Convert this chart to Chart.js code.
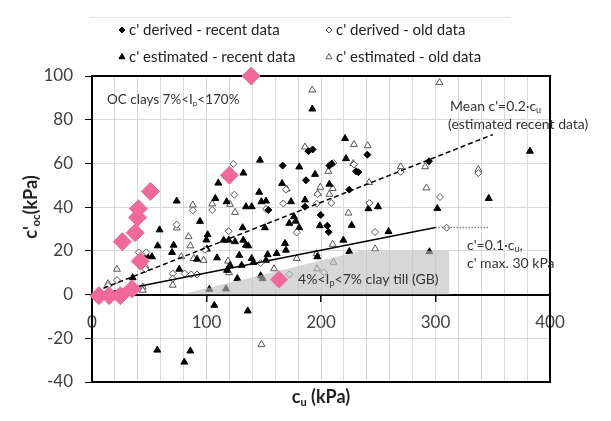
<!DOCTYPE html>
<html>
<head>
<meta charset="utf-8">
<script src="https://cdn.jsdelivr.net/npm/chart.js@4.4.0/dist/chart.umd.min.js"></script>
<style>
  html, body { margin: 0; background: #fff; }
</style>
</head>
<body>
<canvas id="chart" width="611" height="421"></canvas>
<script>
// values, [cu, c'oc] in kPa
const derivedRecent = [
  [189, 65.6], [192.7, 66.4], [166.5, 59], [186.9, 52.3], [207.3, 59], [209.3, 59.9],
  [230.6, 56.4], [232.6, 56], [240.5, 64], [224.7, 48], [199.7, 36.4], [205.5, 31.5],
  [206.7, 28.6], [154, 38.7], [186, 40.2], [294.3, 61]
];
const derivedOld = [
  [123.4, 59.8], [124.3, 45.7], [105, 38.7], [88, 38.5], [74, 32], [119.4, 29], [98.7, 20.5],
  [40.8, 19.3], [47.4, 19.3], [46.6, 11.6], [21.8, 6.6], [14, 4], [70.5, 9.6], [70.5, 7.3],
  [81, 9.6], [86.7, 9.2], [91.7, 9.2], [172.3, 9.2], [178.8, 28.4], [147.3, 14.4], [167, 41.7],
  [152, 39.1], [169.4, 48], [197, 45.9], [196.2, 41.6], [209, 41.9], [210.8, 60.2], [228.8, 59.5],
  [202.6, 10.2], [242.2, 41.9], [247.2, 28.6], [269.6, 56.1], [303.9, 44.6], [337.4, 55.6],
  [309.7, 30.6]
];
const estimatedRecent = [
  [192.4, 84.9], [146.7, 61.5], [132.2, 55.6], [110.3, 51], [107.7, 44], [117.6, 42.5], [74, 42.8],
  [94.3, 33.5], [59, 29.6], [101, 27.4], [99.9, 25], [57.4, 22.3], [71.3, 22.6], [69.9, 19.3],
  [48, 17.7], [52.4, 17.3], [91.7, 16.2], [76.2, 11.6], [109.2, 16.8], [100.4, 20.8], [115, 24.9],
  [119.4, 24.9], [124.9, 24.2], [132.1, 24.9], [134.5, 22.6], [136.5, 22.3], [128.6, 18],
  [139.5, 16.5], [141, 14.7], [130.7, 13.4], [120.5, 13.4], [117.9, 11.1], [152, 15.7],
  [153.4, 18.3], [161.3, 18.8], [168.6, 23.4], [169.4, 20.3], [151, 30.6], [131.6, 30.6],
  [146, 46.8], [148, 42.5], [152, 42.8], [134.5, 40.2], [139.5, 40.2], [173.8, 42.5],
  [176.4, 35.6], [177.9, 33.6], [172.3, 32.6], [181, 30.6], [181, 58.4], [194.8, 55],
  [207.3, 50.5], [166, 50.8], [186, 43.3], [199, 31.5], [219.5, 24.9], [196.8, 17.3],
  [221.8, 62.2], [221, 71.4], [226.8, 31.7], [224.7, 19.7], [241.4, 39.3], [249.8, 40.2],
  [259, 28.8], [294.7, 19.6], [301.6, 39.4], [346.5, 44], [382.5, 65.6], [35.5, 7.7],
  [102.5, 2.4], [117, 2.6], [126.9, 7.3], [147.3, 8.6], [149, 7.3],
  [106.8, -4.9], [136, -7.5], [57, -25.4], [85.9, -25.8], [80.6, -30.9]
];
const estimatedOld = [
  [192.4, 93.6], [303.5, 97], [186, 67.5], [228.8, 68.7], [240.8, 68.1], [228.2, 60], [206.4, 56.4],
  [199.4, 49.1], [210.2, 48.5], [207.3, 45.9], [197.1, 46.2], [170, 48.3], [242, 51.3],
  [269.6, 58.5], [291, 58.5], [337.4, 57.2], [292, 48.8], [224, 37.3], [210.2, 23], [247.3, 20.9],
  [196.2, 18.7], [210.8, 14.8], [196.5, 11.8], [178.8, 16.5], [159, 11.8], [124.9, 37.6],
  [120.5, 41.3], [88, 41], [105, 41.5], [84.4, 26.5], [85.9, 22.3], [78, 17.3], [88.8, 16.5],
  [97.5, 15.7], [118.8, 15.3], [119.7, 10], [21.8, 11.6], [14, 5], [70.5, 4.3], [44.3, 3.5],
  [44.3, 2], [74, 30.5], [46.6, 13], [148, -22.8]
];
// clay till (GB), 4% < Ip < 7%
const clayTill = [
  [139, 100], [6, -0.5], [15, -0.5], [24.7, -0.5], [35, 2.5], [42.2, 15.3], [26.5, 24.2],
  [37.8, 28.3], [39.8, 35.3], [40.5, 39.3], [51, 47.2], [120, 54.6]
];
// trend lines and shaded zone
const meanLine = [[10, 2.9], [350, 73.2]];
const lowerLine = [[5, 0], [300, 30.7]];
const capLine = [[300, 30.7], [346, 30.7]];
const tillZone = [[78, 0], [235, 20], [312, 20], [312, 0]];

const xTicks = { min: 0, max: 400, gridStep: 20, labelStep: 100 };
const yTicks = { min: -40, max: 100, step: 20 };

const pts = arr => arr.map(([x, y]) => ({ x, y }));
const FONT = 'Lato';
const PINK = '#f0699b';

// draws text with subscript parts (given as one-element arrays)
function richText(ctx, parts, x, y, size, weight, align) {
  const pieces = parts.map(p => {
    const sub = Array.isArray(p);
    const s = sub ? p[0] : p;
    const f = `${weight} ${sub ? Math.round(size * 0.62) : size}px ${FONT}`;
    ctx.font = f;
    return { s, sub, f, w: ctx.measureText(s).width };
  });
  const total = pieces.reduce((a, p) => a + p.w, 0);
  let cx = align === 'center' ? x - total / 2 : x;
  ctx.textAlign = 'left';
  ctx.textBaseline = 'middle';
  pieces.forEach(p => {
    ctx.font = p.f;
    ctx.fillText(p.s, cx, p.sub ? y + size * 0.28 : y);
    cx += p.w;
  });
}

const decor = {
  id: 'decor',
  beforeDatasetsDraw(chart) {
    const { ctx, chartArea: a } = chart;
    ctx.save();
    ctx.strokeStyle = '#000';
    ctx.lineWidth = 2;
    ctx.strokeRect(a.left, a.top, a.right - a.left, a.bottom - a.top);
    ctx.restore();
  },
  afterDraw(chart) {
    const { ctx } = chart;
    const xs = chart.scales.x, ys = chart.scales.y;
    const px = v => xs.getPixelForValue(v), py = v => ys.getPixelForValue(v);
    const drawPoint = Chart.helpers.drawPoint;
    ctx.save();

    // faint line above legend
    ctx.strokeStyle = '#e2e2e2';
    ctx.lineWidth = 1;
    ctx.beginPath(); ctx.moveTo(90, 17.5); ctx.lineTo(510, 17.5); ctx.stroke();

    // legend
    const items = [
      [122, 30, 'rectRot', 3, '#000', '#000', "c' derived - recent data"],
      [329, 30, 'rectRot', 3, '#fff', '#555', "c' derived - old data"],
      [122, 57, 'triangle', 3.5, '#000', '#000', "c' estimated - recent data"],
      [329, 57, 'triangle', 3.5, '#fff', '#555', "c' estimated - old data"]
    ];
    items.forEach(([x, y, style, r, fill, stroke, label]) => {
      ctx.fillStyle = fill; ctx.strokeStyle = stroke; ctx.lineWidth = 1;
      drawPoint(ctx, { pointStyle: style, radius: r, rotation: 0, borderWidth: 1 }, x, y);
      ctx.fillStyle = '#222';
      richText(ctx, [label], x + 7, y, 15, 'normal');
    });

    // axis titles
    ctx.fillStyle = '#222';
    richText(ctx, ['c', ['u'], ' (kPa)'], 321, 397, 18, 'bold', 'center');
    ctx.save();
    ctx.translate(31, 207);
    ctx.rotate(-Math.PI / 2);
    richText(ctx, ["c'", ['oc'], '(kPa)'], 0, 0, 18, 'bold', 'center');
    ctx.restore();

    // annotations
    ctx.fillStyle = '#333';
    richText(ctx, ['OC clays 7%<I', ['p'], '<170%'], px(13.1), py(89), 13.5, 'normal');
    richText(ctx, ["Mean c'=0.2\u00b7c", ['u']], px(312.7), py(86.2), 14, 'normal');
    richText(ctx, ['(estimated recent data)'], px(311), py(78), 14, 'normal');
    richText(ctx, ["c'=0.1\u00b7c", ['u'], ','], px(327.5), py(22.5), 14, 'normal');
    richText(ctx, ["c' max. 30 kPa"], px(327.5), py(14.2), 14, 'normal');
    ctx.fillStyle = PINK;
    drawPoint(ctx, { pointStyle: 'rectRot', radius: 9, rotation: 0, borderWidth: 0 }, px(163.3), py(6.9));
    ctx.fillStyle = '#333';
    richText(ctx, ['4%<I', ['p'], '<7% clay till (GB)'], px(180), py(6.9), 14, 'normal');
    ctx.restore();
  }
};

const markerSet = (data, style, r, fill, stroke) => ({
  data: pts(data), pointStyle: style, pointRadius: r,
  backgroundColor: fill, borderColor: stroke, pointBorderWidth: 1, clip: false
});
const lineSet = (data, color, width, dash) => ({
  data: pts(data), showLine: true, pointRadius: 0, borderColor: color,
  borderWidth: width, borderDash: dash, fill: false
});

new Chart(document.getElementById('chart'), {
  type: 'scatter',
  data: {
    datasets: [
      markerSet(clayTill, 'rectRot', 9, PINK, PINK),
      {
        data: pts(tillZone), showLine: true, pointRadius: 0, borderWidth: 0,
        fill: 'origin', backgroundColor: 'rgba(190,190,190,0.62)'
      },
      lineSet(meanLine, '#000', 1.5, [5, 3]),
      lineSet(lowerLine, '#000', 1.5, []),
      lineSet(capLine, '#888', 1.5, [1.5, 1.5]),
      markerSet(derivedRecent, 'rectRot', 3.5, '#000', '#000'),
      markerSet(derivedOld, 'rectRot', 3.5, '#fff', '#555'),
      markerSet(estimatedRecent, 'triangle', 4, '#000', '#000'),
      markerSet(estimatedOld, 'triangle', 4, '#fff', '#555')
    ]
  },
  options: {
    responsive: false,
    animation: false,
    events: [],
    layout: { padding: { top: 76, right: 61, left: 0, bottom: 0 } },
    plugins: { legend: { display: false }, tooltip: { enabled: false } },
    scales: {
      x: {
        type: 'linear', position: 'bottom', min: xTicks.min, max: xTicks.max,
        ticks: { display: false, stepSize: xTicks.gridStep },
        grid: { color: '#d9d9d9', drawTicks: false },
        border: { display: false },
        afterFit: s => { s.height = 39; }
      },
      x2: {
        type: 'linear', axis: 'x', position: { y: 0 }, min: xTicks.min, max: xTicks.max,
        ticks: { stepSize: xTicks.labelStep, padding: 12, maxRotation: 0, color: '#404040',
                 font: { family: FONT, size: 17 } },
        grid: { drawOnChartArea: false, tickLength: 6, tickColor: '#000', lineWidth: 1.5 },
        border: { color: '#000', width: 2 }
      },
      y: {
        type: 'linear', position: 'left', min: yTicks.min, max: yTicks.max,
        ticks: { stepSize: yTicks.step, padding: 12, color: '#404040',
                 font: { family: FONT, size: 17 } },
        grid: {
          color: c => (c.tick && c.tick.value === 0 ? 'rgba(0,0,0,0)' : '#d9d9d9'),
          tickColor: '#000', tickLength: 7
        },
        border: { display: false },
        afterFit: s => { s.width = 92; }
      }
    }
  },
  plugins: [decor]
});
</script>
</body>
</html>
